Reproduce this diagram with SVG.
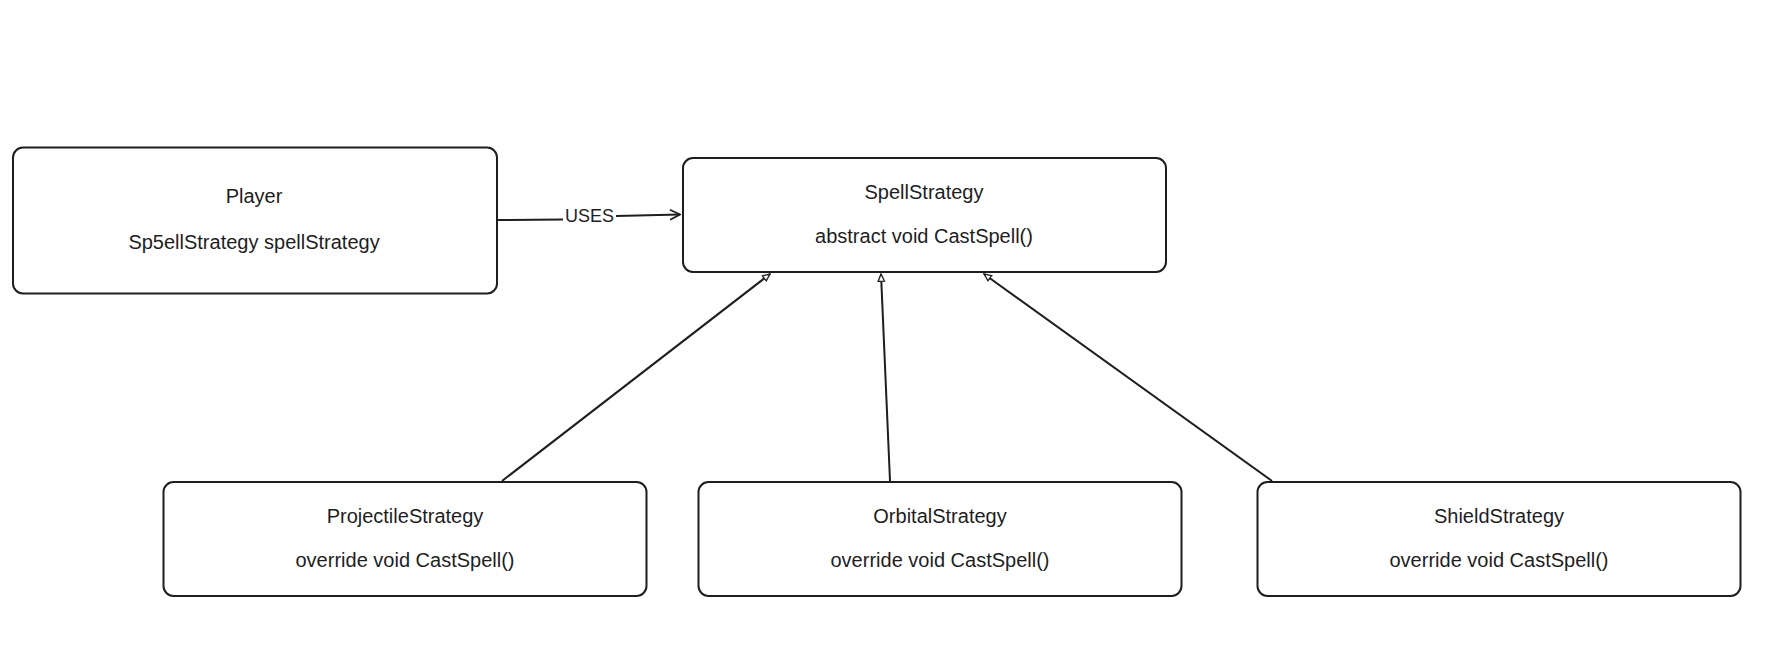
<svg xmlns="http://www.w3.org/2000/svg" width="1778" height="662" viewBox="0 0 1778 662">
<defs>
<style>
.box{fill:#ffffff;stroke:#1e1e1e;stroke-width:2}
.t{font-family:"Liberation Sans","DejaVu Sans",sans-serif;font-size:20px;fill:#1e1e1e;text-anchor:middle}
.lbl{font-family:"Liberation Sans","DejaVu Sans",sans-serif;font-size:18px;fill:#1e1e1e;text-anchor:middle}
.c{fill:none;stroke:#1e1e1e;stroke-width:2}
</style>
<marker id="open" viewBox="0 0 12 12" refX="11" refY="6" markerWidth="12" markerHeight="12" markerUnits="userSpaceOnUse" orient="auto">
<path d="M1,1 L11,6 L1,11" fill="none" stroke="#1e1e1e" stroke-width="1.8"/>
</marker>
<marker id="tri" viewBox="0 0 10 10" refX="9" refY="5" markerWidth="9" markerHeight="9" markerUnits="userSpaceOnUse" orient="auto">
<path d="M1,1.5 L9,5 L1,8.5 Z" fill="#ffffff" stroke="#1e1e1e" stroke-width="1.5"/>
</marker>
</defs>
<rect width="1778" height="662" fill="#ffffff"/>
<g id="connectors">
<path class="c" d="M497,220 L563,219.5" />
<path class="c" d="M616,216 L680,214.5" marker-end="url(#open)"/>
<text class="lbl" x="589.5" y="222">USES</text>
<path class="c" d="M502,481 L770,274" marker-end="url(#tri)"/>
<path class="c" d="M890,481 L881,274" marker-end="url(#tri)"/>
<path class="c" d="M1272,481 L984,274" marker-end="url(#tri)"/>
</g>
<g id="player">
<rect class="box" x="13" y="147.5" width="484" height="146" rx="10"/>
<text class="t" x="254" y="203">Player</text>
<text class="t" x="254" y="249">Sp5ellStrategy spellStrategy</text>
</g>
<g id="spellstrategy">
<rect class="box" x="683" y="158" width="483" height="114" rx="10"/>
<text class="t" x="924" y="199">SpellStrategy</text>
<text class="t" x="924" y="243">abstract void CastSpell()</text>
</g>
<g id="projectile">
<rect class="box" x="163.5" y="482" width="483" height="114" rx="10"/>
<text class="t" x="405" y="523">ProjectileStrategy</text>
<text class="t" x="405" y="567">override void CastSpell()</text>
</g>
<g id="orbital">
<rect class="box" x="698.5" y="482" width="483" height="114" rx="10"/>
<text class="t" x="940" y="523">OrbitalStrategy</text>
<text class="t" x="940" y="567">override void CastSpell()</text>
</g>
<g id="shield">
<rect class="box" x="1257.5" y="482" width="483" height="114" rx="10"/>
<text class="t" x="1499" y="523">ShieldStrategy</text>
<text class="t" x="1499" y="567">override void CastSpell()</text>
</g>
</svg>
